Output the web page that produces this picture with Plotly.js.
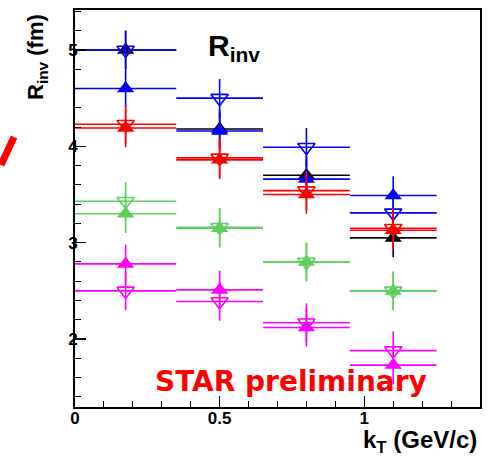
<!DOCTYPE html>
<html>
<head>
<meta charset="utf-8">
<script src="https://cdn.plot.ly/plotly-3.0.1.min.js"></script>
<style>html,body{margin:0;padding:0;background:#fff;}#chart{width:489px;height:456px;}</style>
</head>
<body>
<div id="chart"></div>
<script>
// k_T bins (GeV/c)
const kT = [0.175, 0.5, 0.8, 1.1];
const kTHalfWidth = [0.175, 0.15, 0.15, 0.15];

// R_inv (fm) values
const blackFilledUp = [5.00, 4.18, 3.70, 3.05];
const blueFilledUp = [4.60, 4.16, 3.66, 3.49];
const blueOpenDown = [5.00, 4.50, 3.99, 3.31];
const redFilledUp = [4.19, 3.86, 3.50, 3.13];
const redOpenDown = [4.23, 3.88, 3.54, 3.15];
const greenFilledUp = [3.30, 3.15, 2.80, 2.50];
const greenOpenDown = [3.43, 3.16, 2.80, 2.50];
const magentaFilledUp = [2.78, 2.51, 2.12, 1.73];
const magentaOpenDown = [2.50, 2.39, 2.17, 1.88];
const rErr = [0.2, 0.2, 0.2, 0.2];

const xTickVals = [0, 0.5, 1];
const xTickText = ['0', '0.5', '1'];
const yTickVals = [2, 3, 4, 5];
const yTickText = ['2', '3', '4', '5'];

const BLACK = '#000000', BLUE = '#0000ff', RED = '#ff0000', GREEN = '#5ccf5c', MAGENTA = '#ff00ff';

function series(y, color, open) {
  return {
    type: 'scatter', mode: 'markers', x: kT, y: y,
    error_x: {type: 'data', array: kTHalfWidth, visible: true, color: color, thickness: 1.6, width: 0},
    error_y: {type: 'data', array: rErr, visible: true, color: color, thickness: 1.6, width: 0},
    marker: open
      ? {symbol: 'triangle-down-open', size: 15, color: color, line: {color: color, width: 1.6}}
      : {symbol: 'triangle-up', size: 15, color: color, line: {width: 0}},
    showlegend: false, hoverinfo: 'skip'
  };
}

const data = [
  series(blackFilledUp, BLACK, false),
  series(blueFilledUp, BLUE, false),
  series(blueOpenDown, BLUE, true),
  series(redFilledUp, RED, false),
  series(redOpenDown, RED, true),
  series(greenFilledUp, GREEN, false),
  series(greenOpenDown, GREEN, true),
  series(magentaFilledUp, MAGENTA, false),
  series(magentaOpenDown, MAGENTA, true)
];

const W = 405, H = 397, L = 75, T = 10;
function px(x) { return (x - L) / W; }
function py(y) { return (T + H - y) / H; }

const tickFont = {family: 'Liberation Sans, Arial, sans-serif', size: 17, color: '#000', weight: 'bold'};

const layout = {
  width: 489, height: 456,
  margin: {l: L, r: 489 - L - W, t: T, b: 456 - T - H, pad: 0},
  paper_bgcolor: '#fff', plot_bgcolor: '#fff',
  showlegend: false,
  xaxis: {
    range: [0, 1.4], showgrid: false, zeroline: false,
    showline: true, linecolor: '#000', linewidth: 2, mirror: true,
    ticks: 'inside', ticklen: 11, tickwidth: 1.5, tickcolor: '#000',
    tickvals: xTickVals, ticktext: xTickText, tickfont: tickFont, ticklabelstandoff: -5,
    minor: {dtick: 0.1, tick0: 0, ticks: 'inside', ticklen: 6, tickwidth: 1, tickcolor: '#000', showgrid: false}
  },
  yaxis: {
    range: [1.295, 5.415], showgrid: false, zeroline: false,
    showline: true, linecolor: '#000', linewidth: 2, mirror: true,
    ticks: 'inside', ticklen: 11, tickwidth: 1.5, tickcolor: '#000',
    tickvals: yTickVals, ticktext: yTickText, tickfont: tickFont, ticklabelstandoff: -8,
    minor: {dtick: 0.2, tick0: 0, ticks: 'inside', ticklen: 6, tickwidth: 1, tickcolor: '#000', showgrid: false}
  },
  annotations: [
    {xref: 'paper', yref: 'paper', x: px(37), y: py(57), text: 'R<sub>inv</sub> (fm)', textangle: -90,
     showarrow: false, xanchor: 'center', yanchor: 'middle',
     font: {family: 'Liberation Sans, Arial, sans-serif', size: 22, color: '#000', weight: 'bold'}},
    {xref: 'paper', yref: 'paper', x: px(479), y: py(441), text: 'k<sub>T</sub> (GeV/c)',
     showarrow: false, xanchor: 'right', yanchor: 'middle',
     font: {family: 'Liberation Sans, Arial, sans-serif', size: 24, color: '#000', weight: 'bold'}},
    {xref: 'paper', yref: 'paper', x: px(234), y: py(47), text: 'R<sub>inv</sub>',
     showarrow: false, xanchor: 'center', yanchor: 'middle',
     font: {family: 'Liberation Sans, Arial, sans-serif', size: 30, color: '#000', weight: 'bold'}},
    {xref: 'paper', yref: 'paper', x: px(291), y: py(381), text: 'STAR preliminary',
     showarrow: false, xanchor: 'center', yanchor: 'middle',
     font: {family: 'DejaVu Sans, sans-serif', size: 28, color: '#ff0000', weight: 'bold'}}
  ],
  shapes: [
    {type: 'line', xref: 'paper', yref: 'paper', x0: px(1), y0: py(165), x1: px(14), y1: py(137),
     line: {color: '#ff0000', width: 7}}
  ]
};

Plotly.newPlot('chart', data, layout, {displayModeBar: false, staticPlot: true});
</script>
</body>
</html>
